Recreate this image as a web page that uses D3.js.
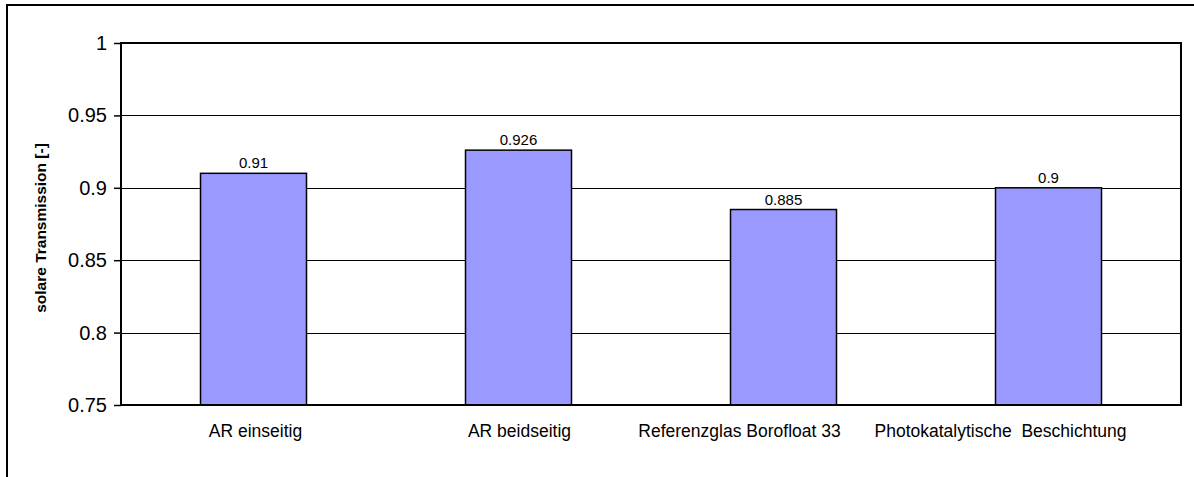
<!DOCTYPE html>
<html>
<head>
<meta charset="utf-8">
<script src="https://cdn.jsdelivr.net/npm/d3@7"></script>
<style>
  body { margin: 0; background: #fff; }
  text { font-family: "Liberation Sans", Arial, sans-serif; }
</style>
</head>
<body>
<svg id="chart" width="1194" height="477"></svg>
<script>
var categories = ["AR einseitig", "AR beidseitig", "Referenzglas Borofloat 33", "Photokatalytische  Beschichtung"];
var values = [0.91, 0.926, 0.885, 0.9];
var yTicks = [0.75, 0.8, 0.85, 0.9, 0.95, 1];

var svg = d3.select("#chart"),
    margin = {top: 43, right: 13, bottom: 72, left: 121},
    width = +svg.attr("width"),
    height = +svg.attr("height"),
    plotW = width - margin.left - margin.right,
    plotH = height - margin.top - margin.bottom;

// outer frame (runs off the right/bottom edge like the original)
svg.append("rect")
    .attr("x", 7).attr("y", 5)
    .attr("width", 1300).attr("height", 600)
    .attr("fill", "none").attr("stroke", "#000").attr("stroke-width", 2);

var x = d3.scaleBand().domain(categories).range([0, plotW]).padding(0);
var y = d3.scaleLinear().domain([0.75, 1]).range([plotH, 0]);

var g = svg.append("g")
    .attr("transform", "translate(" + margin.left + "," + margin.top + ")");

// gridlines
g.selectAll("line.grid")
    .data(yTicks)
    .enter().append("line")
    .attr("class", "grid")
    .attr("x1", 0).attr("x2", plotW)
    .attr("y1", function (d) { return Math.round(y(d)) + 0.5; })
    .attr("y2", function (d) { return Math.round(y(d)) + 0.5; })
    .attr("stroke", "#000").attr("stroke-width", 1.2);

var barW = x.bandwidth() * 0.4;

g.selectAll("rect.bar")
    .data(values)
    .enter().append("rect")
    .attr("class", "bar")
    .attr("x", function (d, i) { return x(categories[i]) + (x.bandwidth() - barW) / 2; })
    .attr("y", function (d) { return y(d); })
    .attr("width", barW)
    .attr("height", function (d) { return plotH - y(d); })
    .attr("fill", "#9999FF")
    .attr("stroke", "#000").attr("stroke-width", 1.5);

g.selectAll("text.val")
    .data(values)
    .enter().append("text")
    .attr("class", "val")
    .attr("x", function (d, i) { return x(categories[i]) + x.bandwidth() / 2; })
    .attr("y", function (d) { return y(d) - 5; })
    .attr("text-anchor", "middle")
    .attr("font-size", 15)
    .text(function (d) { return d; });

// plot frame
g.append("rect")
    .attr("width", plotW).attr("height", plotH)
    .attr("fill", "none").attr("stroke", "#000").attr("stroke-width", 2);

// y axis
var yAxis = g.append("g")
    .call(d3.axisLeft(y).tickValues(yTicks).tickSize(7).tickSizeOuter(0)
        .tickFormat(function (d) { return String(d); }));
yAxis.select(".domain").remove();
yAxis.selectAll("line").attr("stroke", "#000").attr("stroke-width", 1.5);
yAxis.selectAll("text")
    .attr("font-size", 20)
    .attr("font-family", "Liberation Sans, Arial, sans-serif")
    .attr("fill", "#000")
    .attr("dx", "-0.2em");

// x axis labels (excel nudged the two long ones left)
var labelShift = [2, 1, -44, -48];
var xAxis = g.append("g")
    .attr("transform", "translate(0," + plotH + ")")
    .call(d3.axisBottom(x).tickSize(0));
xAxis.select(".domain").remove();
xAxis.selectAll("text")
    .attr("font-size", 17.5)
    .attr("font-family", "Liberation Sans, Arial, sans-serif")
    .attr("fill", "#000")
    .attr("x", function (d, i) { return labelShift[i]; })
    .attr("y", 20)
    .attr("dy", "0.71em")
    .style("white-space", "pre");

// y axis title
svg.append("text")
    .attr("transform", "translate(46,228) rotate(-90)")
    .attr("text-anchor", "middle")
    .attr("font-size", 15.5)
    .attr("font-weight", "bold")
    .text("solare Transmission [-]");
</script>
</body>
</html>
